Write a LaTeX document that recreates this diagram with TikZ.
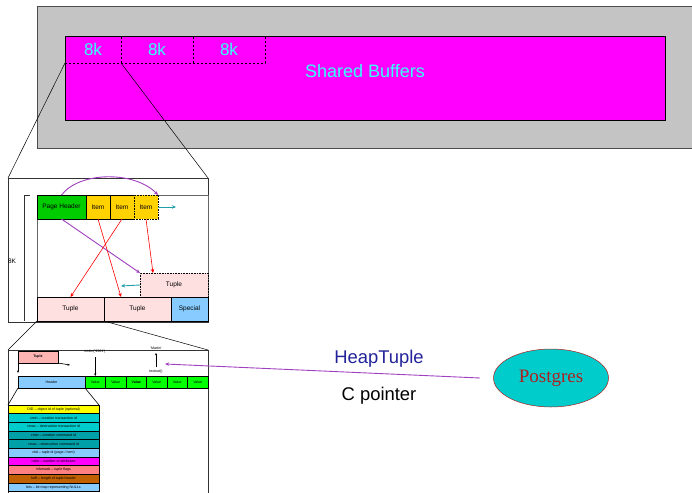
\documentclass[tikz,border=0pt]{standalone}
\usepackage{fontspec}
\setmainfont{Liberation Sans}
\newfontfamily\pgserif{Liberation Serif}
\usetikzlibrary{arrows.meta,shapes.geometric}
\definecolor{sbgray}{HTML}{C4C4C4}
\definecolor{sbmag}{HTML}{FF00FF}
\definecolor{kcyan}{HTML}{33FFFF}
\definecolor{phgreen}{HTML}{00CC00}
\definecolor{valgreen}{HTML}{00FF00}
\definecolor{itgold}{HTML}{FFD200}
\definecolor{tpink}{HTML}{FFE0E0}
\definecolor{tpink2}{HTML}{FFB4B4}
\definecolor{ltblue}{HTML}{88CCFF}
\definecolor{tealar}{HTML}{20A0A8}
\definecolor{purp}{HTML}{A040C0}
\definecolor{htblue}{HTML}{22229A}
\definecolor{pgcyan}{HTML}{00CCCC}
\definecolor{pgred}{HTML}{B02020}
\definecolor{fyellow}{HTML}{FFFF00}
\definecolor{fcyan}{HTML}{00CCCC}
\definecolor{fteal}{HTML}{00A0A8}
\definecolor{fsalmon}{HTML}{FF8080}
\definecolor{fbrown}{HTML}{C06000}
\begin{document}
\begin{tikzpicture}[x=1pt,y=-1pt,
  box/.style={draw=black, line width=0.6pt, inner sep=0pt, outer sep=0pt, anchor=north west, align=center},
  dcell/.style={draw=black, line width=0.9pt, dash pattern=on 2pt off 2pt, inner sep=0pt, outer sep=0pt, anchor=north west,
     minimum height=27pt, text=kcyan, font=\fontsize{17}{17}\selectfont},
  midtxt/.style={font=\fontsize{6.5}{7}\selectfont},
  tinytxt/.style={font=\fontsize{3.6}{4}\selectfont},
  fld/.style={box, minimum width=91pt, minimum height=8.65pt, font=\fontsize{3.6}{4}\selectfont},
  arr/.style={-{Stealth[length=4pt,width=3.5pt]}},
  sarr/.style={-{Stealth[length=2.5pt,width=2pt]}, line width=0.6pt},
  bigtxt/.style={font=\fontsize{18.4}{19}\selectfont}
]
\clip (0,0) rectangle (692,492);
\fill[white] (0,0) rectangle (692,492);

% top: shared buffers
\node[box, draw=black!70, fill=sbgray, minimum width=670pt, minimum height=142pt] (gray) at (37,6) {};
\node[box, fill=sbmag, line width=0.8pt, minimum width=600pt, minimum height=84pt] (sb) at (65,36) {};
\node[text=kcyan, font=\fontsize{18}{18}\selectfont] (sbl) at (365,71) {Shared Buffers};
\node[dcell, minimum width=56pt] (k1) at (65,36) {8k};
\node[dcell, minimum width=72pt] (k2) at (121,36) {8k};
\node[dcell, minimum width=72pt] (k3) at (193,36) {8k};

% middle panel
\node[box, line width=0.8pt, draw=black!80, minimum width=200pt, minimum height=144pt] (mp) at (8,178) {};
\draw[line width=0.5pt] (k1.south west) -- (mp.north west);
\draw[line width=0.5pt] (k1.south east) -- (mp.north east);
\coordinate (brt) at (30,195);
\coordinate (brc) at (24,195);
\coordinate (brb) at (24,321);
\draw[line width=0.8pt, draw=black!80] (brt) -- (brc) -- (brb);
\node[midtxt] (eightk) at (12,261) {8K};
\node[box, draw=black!60, line width=0.8pt, minimum width=171pt, minimum height=126pt] (page) at (37,195) {};
\node[box, fill=phgreen, minimum width=49pt, minimum height=24pt, midtxt] (ph) at (37,195) {Page Header};
\node[box, fill=itgold, minimum width=24pt, minimum height=24pt, midtxt] (it1) at (86,195) {Item};
\node[box, fill=itgold, minimum width=24pt, minimum height=24pt, midtxt] (it2) at (110,195) {Item};
\node[box, fill=itgold, densely dotted, line width=0.8pt, minimum width=24pt, minimum height=24pt, midtxt] (it3) at (134,195) {Item};
\node[box, fill=tpink, densely dotted, line width=0.8pt, minimum width=68pt, minimum height=24pt, midtxt] (ft) at (140,273) {Tuple};
\node[box, fill=tpink, minimum width=67pt, minimum height=24pt, midtxt] (t1) at (37,297) {Tuple};
\node[box, fill=tpink, minimum width=67pt, minimum height=24pt, midtxt] (t2) at (104,297) {Tuple};
\node[box, fill=ltblue, minimum width=37pt, minimum height=24pt, midtxt] (sp) at (171,297) {Special};

\coordinate (tealend) at (176,207);
\coordinate (tealend2) at (121,286);
\draw[arr, purp, line width=0.9pt] (ph.north) .. controls (80,171) and (135,171) .. (it3.north east);
\draw[arr, purp, line width=0.9pt] (ph.south) -- (ft.north west);
\draw[arr, red, line width=0.6pt] (it1.south) -- ([xshift=17pt]t2.north west);
\draw[arr, red, line width=0.6pt] (it2.south) -- (t1.north);
\draw[arr, red, line width=0.6pt] (it3.south) -- ([xshift=13pt]ft.north west);
\draw[arr, tealar, line width=0.9pt] (it3.east) -- (tealend);
\draw[arr, tealar, line width=0.9pt] (ft.west) -- (tealend2);

% bottom panel
\node[box, line width=0.8pt, draw=black!80, minimum width=200pt, minimum height=160pt] (bp) at (8,350) {};
\draw[line width=0.5pt] (t1.south west) -- (bp.north west);
\draw[line width=0.5pt] (t2.south west) -- (bp.north east);

\node[box, fill=tpink2, minimum width=40pt, minimum height=12pt, tinytxt] (tup) at (18,351) {\textbf{Tuple}};
\coordinate (tupa) at (70,365);
\coordinate (tupb) at (18,373);
\draw[sarr] (tup.south east) -- (tupa);
\draw[sarr] (tup.south west) -- (tupb);
\node[box, fill=ltblue, minimum width=67pt, minimum height=12pt, tinytxt] (hdr) at (18,376) {Header};
\foreach \i/\w in {1/Value,2/Value,3/\textbf{Value},4/Value,5/Value,6/Value}{
  \node[box, fill=valgreen, line width=0.8pt, minimum width=20.5pt, minimum height=12pt, tinytxt] (v\i) at ({85+(\i-1)*20.5},376) {\w};
}
\node[tinytxt] (int4) at (95,352) {int4in(’9361’)};
\node[tinytxt] (mart) at (156,348) {’Martin’};
\node[tinytxt] (tout) at (156,372) {textout()};
\draw[sarr] (int4.south -| v1.north) -- (v1.north);
\draw[sarr] (tout.north) -- (mart.south);

% field list
\coordinate (fl) at (8,405);
\coordinate (fr) at (99,405);
\draw[line width=0.6pt] (hdr.south west) -- (fl);
\draw[line width=0.6pt] (hdr.south east) -- (fr);
\node[fld, fill=fyellow] (f1) at (8,405) {OID -- object id of tuple (optional)};
\node[fld, fill=fcyan] (f2) at (8,413.65) {xmin -- creation transaction id};
\node[fld, fill=fcyan] (f3) at (8,422.3) {xmax -- destruction transaction id};
\node[fld, fill=fteal] (f4) at (8,430.95) {cmin -- creation command id};
\node[fld, fill=fteal] (f5) at (8,439.6) {cmax -- destruction command id};
\node[fld, fill=ltblue] (f6) at (8,448.25) {ctid -- tuple id (page / item)};
\node[fld, fill=sbmag] (f7) at (8,456.9) {natts -- number of attributes};
\node[fld, fill=fsalmon] (f8) at (8,465.55) {infomask -- tuple flags};
\node[fld, fill=fbrown] (f9) at (8,474.2) {hoff -- length of tuple header};
\node[fld, fill=ltblue] (f10) at (8,482.85) {bits -- bit map representing NULLs};

% right side
\node[ellipse, draw=pgred, line width=0.5pt, fill=pgcyan, minimum width=115pt, minimum height=58pt, inner sep=0pt,
  font=\pgserif\fontsize{19}{19}\selectfont, text=pgred] (pg) at (551,378) {Postgres};
\coordinate (ptrstart) at (480,378);
\coordinate (ptrend) at (165,364);
\draw[arr, purp, line width=0.9pt] (ptrstart) -- (ptrend);
\node[text=htblue, bigtxt] (ht) at (379,359) {HeapTuple};
\node[text=black, bigtxt] (cp) at (379,396) {C pointer};
\end{tikzpicture}
\end{document}
